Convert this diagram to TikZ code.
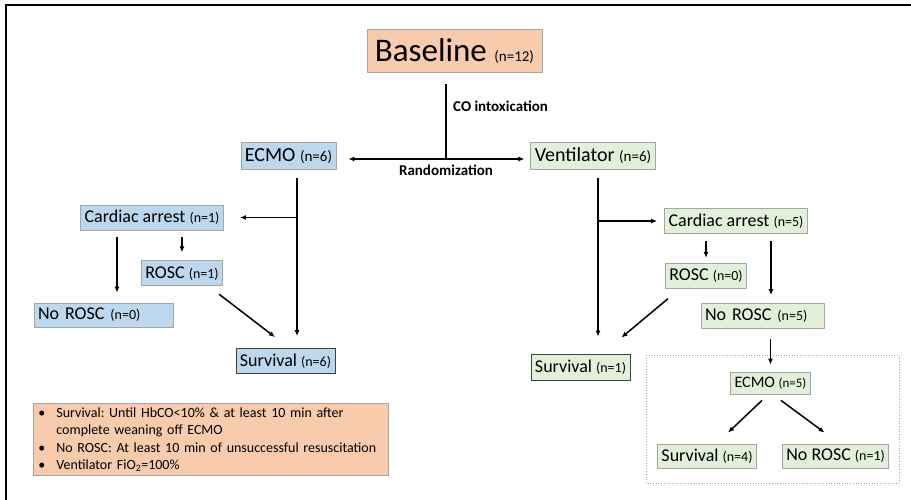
\documentclass[tikz,border=0pt]{standalone}
\usepackage{fontspec}
\setmainfont{Carlito}
\usetikzlibrary{positioning,arrows.meta}

\definecolor{peach}{HTML}{F8CBAD}
\definecolor{ecmoblue}{HTML}{BDD7EE}
\definecolor{ventgreen}{HTML}{E2EFDA}
\definecolor{boxline}{HTML}{A5A5A5}

\newcommand{\ncount}[1]{{\fontsize{14}{14}\selectfont(n=#1)}}
\newcommand{\ntop}[1]{{\fontsize{15}{15}\selectfont(n=#1)}}

\tikzset{
  box/.style={draw=boxline, line width=0.8pt, inner xsep=4pt, inner ysep=0pt, minimum height=25pt, font=\fontsize{18}{18}\selectfont},
  ecmobox/.style={box, fill=ecmoblue},
  ventbox/.style={box, fill=ventgreen},
  topbox/.style={minimum height=27pt, font=\fontsize{20}{20}\selectfont},
  endbox/.style={draw=black!75},
  arr/.style={-{Latex[length=6pt,width=5pt]}, line width=1.5pt},
  steplabel/.style={font=\bfseries\fontsize{15}{15}\selectfont, inner sep=0pt},
}

\begin{document}
\frenchspacing
\begin{tikzpicture}[x=1pt,y=-1pt]
\useasboundingbox (0,0) rectangle (911,500);
\draw[line width=1.6pt] (6,501) -- (6,5) -- (912,5);

%% top
\node[box, fill=peach, minimum height=43pt, inner xsep=8pt, font=\fontsize{33}{33}\selectfont](Base) at (454.5,51) {Baseline {\fontsize{15}{15}\selectfont(n=12)}};
\node[ecmobox, topbox](ECMO) at (288.5,156) {ECMO \ntop{6}};
\node[ventbox, topbox](Vent) at (593,156) {Ventilator \ntop{6}};
\coordinate (Split) at (446,159);
\draw[line width=1.5pt, shorten <=11pt] (Split |- Base.south) -- (Split);
\draw[{Latex[length=6pt,width=5pt]}-{Latex[length=6pt,width=5pt]}, line width=1.5pt, shorten <=12pt, shorten >=6pt] (ECMO.east |- Split) -- (Vent.west |- Split);
\node[steplabel, anchor=west](COLabel) at (453,106) {CO intoxication};
\node[steplabel](RandLabel) at (446,170) {Randomization};

%% ECMO arm
\node[ecmobox](CAl) at (152,217.5) {Cardiac arrest \ncount{1}};
\node[ecmobox, below=30pt of CAl, xshift=30pt](ROSCl) {ROSC \ncount{1}};
\node[ecmobox, text width=131pt, align=left, minimum height=24pt](NoRl) at (103.5,315) {No ROSC \ncount{0}};
\node[ecmobox, endbox](Survl) at (285.5,361) {Survival \ncount{6}};
\coordinate (LTrunk) at (297,178);
\coordinate (LNoDrop) at ([xshift=13.5pt]NoRl.north);
\draw[arr, shorten >=12pt] (LTrunk) -- (LTrunk |- Survl.north);
\draw[arr, shorten >=16pt] (LTrunk |- CAl.east) -- (CAl.east);
\draw[arr, shorten <=7pt, shorten >=8pt] (ROSCl.north |- CAl.south) -- (ROSCl.north);
\draw[arr, shorten <=7pt, shorten >=10pt] (LNoDrop |- CAl.south) -- (LNoDrop);
\draw[arr] ([shift={(-4,8)}]ROSCl.south east) -- ([shift={(-10.5,-11)}]Survl.north);

%% Ventilator arm
\node[ventbox](CAr) at (736,221) {Cardiac arrest \ncount{5}};
\node[ventbox, below=29pt of CAr, xshift=-30pt](ROSCr) {ROSC \ncount{0}};
\node[ventbox, text width=115pt, align=left](NoRr) at (762.5,316) {No ROSC \ncount{5}};
\node[ventbox, endbox, minimum height=26pt](Survr) at (580.5,367) {Survival \ncount{1}};
\coordinate (RTrunk) at (598,178);
\coordinate (RNoDrop) at ([xshift=8.5pt]NoRr.north);
\draw[arr, shorten >=17pt] (RTrunk) -- (RTrunk |- Survr.north);
\draw[arr, shorten >=7pt] (RTrunk |- CAr.west) -- (CAr.west);
\draw[arr, shorten <=7pt, shorten >=5pt] (ROSCr.north |- CAr.south) -- (ROSCr.north);
\draw[arr, shorten <=7pt, shorten >=8pt] (RNoDrop |- CAr.south) -- (RNoDrop);
\draw[arr] ([shift={(3,10)}]ROSCr.south west) -- ([shift={(-9,-16)}]Survr.north east);

%% rescue ECMO
\draw[dotted, boxline, line width=0.7pt] (646,355) rectangle (899,483);
\node[ventbox, minimum height=22pt, font=\fontsize{16}{16}\selectfont](ECMOr) at (770.5,383) {ECMO {\fontsize{13}{13}\selectfont(n=5)}};
\node[ventbox, minimum height=24pt](Survr2) at (707,456) {Survival \ncount{4}};
\node[ventbox, minimum height=24pt, right=25pt of Survr2](NoRr2) {No ROSC \ncount{1}};
\draw[arr, shorten <=10pt, shorten >=7pt] (ECMOr.north |- NoRr.south) -- (ECMOr.north);
\draw[arr] ([shift={(-8.5,6)}]ECMOr.south) -- ([shift={(21,-11)}]Survr2.north);
\draw[arr] ([shift={(10.5,6)}]ECMOr.south) -- ([shift={(-11,-11)}]NoRr2.north);

%% definitions
\node[draw=boxline, fill=peach, line width=0.8pt, anchor=north west, inner xsep=5pt, inner ysep=4pt, text width=345pt, align=left, font=\fontsize{14}{17.5}\selectfont](Legend) at (33,403) {%
\makebox[18pt][l]{\textbullet}Survival: Until HbCO<10\% \& at least 10 min after\\
\hspace*{18pt}complete weaning off ECMO\\
\makebox[18pt][l]{\textbullet}No ROSC: At least 10 min of unsuccessful resuscitation\\
\makebox[18pt][l]{\textbullet}Ventilator FiO\textsubscript{2}=100\%};

\end{tikzpicture}
\end{document}
